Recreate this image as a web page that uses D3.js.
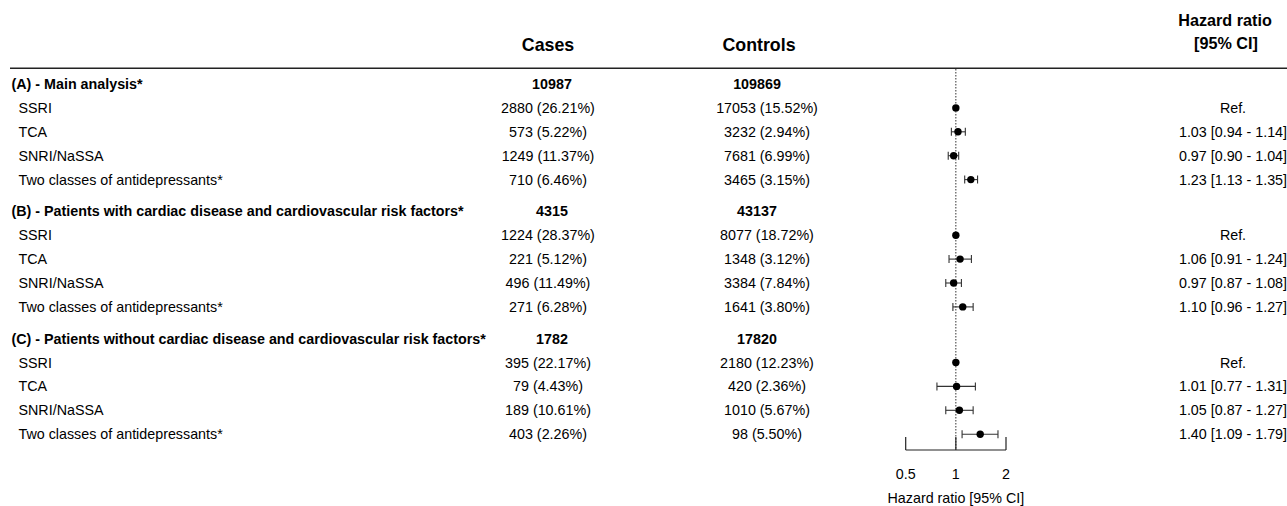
<!DOCTYPE html>
<html>
<head>
<meta charset="utf-8">
<script src="https://cdn.jsdelivr.net/npm/d3@7"></script>
<style>
  html, body { margin: 0; padding: 0; background: #fff; }
  svg { display: block; font-family: "Liberation Sans", Arial, Helvetica, sans-serif; }
</style>
</head>
<body>
<svg id="chart" width="1287" height="506"></svg>
<script>
// ---------------- DATA ----------------
const groupLabels = [
  "(A) - Main analysis*",
  "(B) - Patients with cardiac disease and cardiovascular risk factors*",
  "(C) - Patients without cardiac disease and cardiovascular risk factors*"
];
const groupCases    = [10987, 4315, 1782];
const groupControls = [109869, 43137, 17820];

const drugs = ["SSRI", "TCA", "SNRI/NaSSA", "Two classes of antidepressants*"];

const casesN   = [[2880, 573, 1249, 710], [1224, 221, 496, 271], [395, 79, 189, 403]];
const casesPct = [[26.21, 5.22, 11.37, 6.46], [28.37, 5.12, 11.49, 6.28], [22.17, 4.43, 10.61, 2.26]];
const controlsN   = [[17053, 3232, 7681, 3465], [8077, 1348, 3384, 1641], [2180, 420, 1010, 98]];
const controlsPct = [[15.52, 2.94, 6.99, 3.15], [18.72, 3.12, 7.84, 3.80], [12.23, 2.36, 5.67, 5.50]];

const hr   = [[1, 1.03, 0.97, 1.23], [1, 1.06, 0.97, 1.10], [1, 1.01, 1.05, 1.40]];
const ciLo = [[null, 0.94, 0.90, 1.13], [null, 0.91, 0.87, 0.96], [null, 0.77, 0.87, 1.09]];
const ciHi = [[null, 1.14, 1.04, 1.35], [null, 1.24, 1.08, 1.27], [null, 1.31, 1.27, 1.79]];

const axisTicks = [0.5, 1, 2];

// ---------------- LAYOUT ----------------
const svg = d3.select("#chart");
const fs = 14.3;

const x = d3.scaleLog().domain([0.5, 2]).range([905.7, 1006]);
const yRow = d3.scaleLinear().domain([0, 1]).range([84, 84 + 23.9]);
const groupGap = 7.8;
const yOf = (g, r) => yRow(g * 5 + r) + g * groupGap; // r=0 header, 1..4 rows

// Column headers
svg.append("text").attr("x", 548).attr("y", 45).attr("dy", "0.35em")
  .attr("text-anchor", "middle").attr("font-weight", "bold").attr("font-size", 17.8).text("Cases");
svg.append("text").attr("x", 759).attr("y", 45).attr("dy", "0.35em")
  .attr("text-anchor", "middle").attr("font-weight", "bold").attr("font-size", 17.8).text("Controls");
svg.append("text").attr("x", 1225).attr("y", 20).attr("dy", "0.35em")
  .attr("text-anchor", "middle").attr("font-weight", "bold").attr("font-size", 16.2).text("Hazard ratio");
svg.append("text").attr("x", 1226).attr("y", 43).attr("dy", "0.35em")
  .attr("text-anchor", "middle").attr("font-weight", "bold").attr("font-size", 16.2).text("[95% CI]");

// header rule
svg.append("line").attr("x1", 10).attr("x2", 1287).attr("y1", 68.3).attr("y2", 68.3)
  .attr("stroke", "#222").attr("stroke-width", 1.5);

// reference dotted line at HR = 1
svg.append("line").attr("x1", x(1)).attr("x2", x(1)).attr("y1", 69).attr("y2", 450)
  .attr("stroke", "#333").attr("stroke-width", 1).attr("stroke-dasharray", "1.5,1.5");

const fmtHR = v => v.toFixed(2);

groupLabels.forEach((gl, g) => {
  const yh = yOf(g, 0);
  svg.append("text").attr("x", 11.5).attr("y", yh).attr("dy", "0.35em")
    .attr("font-weight", "bold").attr("font-size", fs).text(gl);
  svg.append("text").attr("x", 552).attr("y", yh).attr("dy", "0.35em")
    .attr("text-anchor", "middle").attr("font-weight", "bold").attr("font-size", fs).text(groupCases[g]);
  svg.append("text").attr("x", 757).attr("y", yh).attr("dy", "0.35em")
    .attr("text-anchor", "middle").attr("font-weight", "bold").attr("font-size", fs).text(groupControls[g]);

  drugs.forEach((d, i) => {
    const y = yOf(g, i + 1);
    svg.append("text").attr("x", 18.5).attr("y", y).attr("dy", "0.35em")
      .attr("font-size", fs).text(d);
    svg.append("text").attr("x", 548).attr("y", y).attr("dy", "0.35em")
      .attr("text-anchor", "middle").attr("font-size", fs)
      .text(`${casesN[g][i]} (${casesPct[g][i].toFixed(2)}%)`);
    svg.append("text").attr("x", 767).attr("y", y).attr("dy", "0.35em")
      .attr("text-anchor", "middle").attr("font-size", fs)
      .text(`${controlsN[g][i]} (${controlsPct[g][i].toFixed(2)}%)`);

    const lo = ciLo[g][i], hi = ciHi[g][i];
    const label = lo == null ? "Ref." : `${fmtHR(hr[g][i])} [${fmtHR(lo)} - ${fmtHR(hi)}]`;
    svg.append("text").attr("x", 1233).attr("y", y).attr("dy", "0.35em")
      .attr("text-anchor", "middle").attr("font-size", fs).text(label);

    if (lo != null) {
      const ci = svg.append("g").attr("stroke", "#333").attr("stroke-width", 1.1);
      ci.append("line").attr("x1", x(lo)).attr("x2", x(hi)).attr("y1", y).attr("y2", y);
      ci.append("line").attr("x1", x(lo)).attr("x2", x(lo)).attr("y1", y - 4).attr("y2", y + 4);
      ci.append("line").attr("x1", x(hi)).attr("x2", x(hi)).attr("y1", y - 4).attr("y2", y + 4);
    }
    svg.append("circle").attr("cx", x(hr[g][i])).attr("cy", y).attr("r", 3.7).attr("fill", "#000");
  });
});

// x axis (ticks pointing up)
const axisG = svg.append("g").attr("transform", "translate(0,450)");
axisG.append("line").attr("x1", x(0.5)).attr("x2", x(2)).attr("y1", 0).attr("y2", 0)
  .attr("stroke", "#222").attr("stroke-width", 1.2);
axisTicks.forEach(t => {
  axisG.append("line").attr("x1", x(t)).attr("x2", x(t)).attr("y1", 0).attr("y2", -13)
    .attr("stroke", "#222").attr("stroke-width", 1.2);
  axisG.append("text").attr("x", x(t)).attr("y", 24).attr("dy", "0.35em")
    .attr("text-anchor", "middle").attr("font-size", fs).text(d3.format("")(t));
});
svg.append("text").attr("x", x(1)).attr("y", 498).attr("dy", "0.35em")
  .attr("text-anchor", "middle").attr("font-size", fs).text("Hazard ratio [95% CI]");
</script>
</body>
</html>
